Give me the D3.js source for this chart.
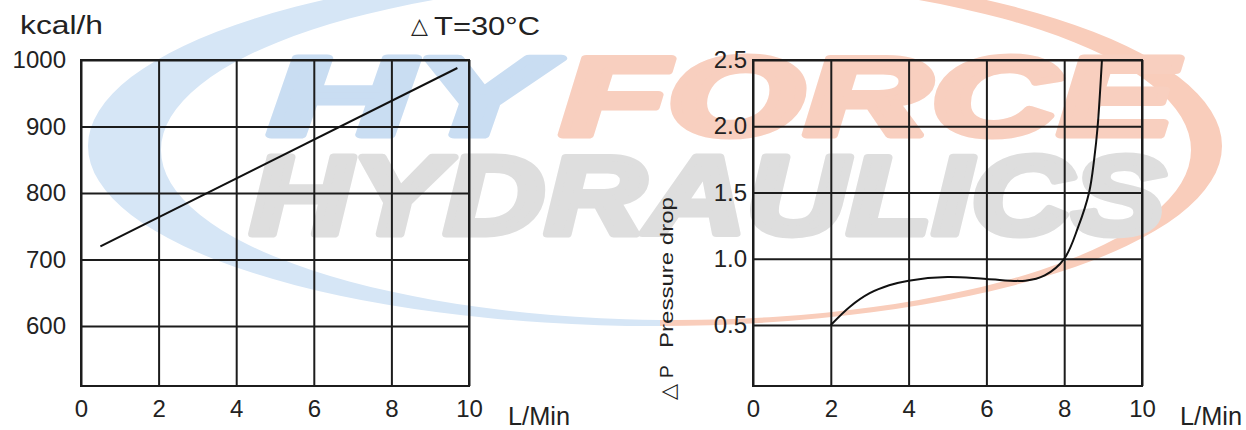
<!DOCTYPE html>
<html>
<head>
<meta charset="utf-8">
<script src="https://cdn.jsdelivr.net/npm/d3@7"></script>
<style>
  body { margin: 0; background: white; }
  text { font-family: "Liberation Sans", Arial, sans-serif; fill: #222; }
</style>
</head>
<body>
<svg width="1246" height="430"></svg>
<script>
// heat dissipation (left chart)
var heatFlow = [0.5, 9.7];
var heatKcal = [720, 988];
var heatTicks = [600, 700, 800, 900, 1000];

// pressure drop (right chart)
var dropFlow = [2, 2.5, 3, 3.5, 4, 5, 6, 7, 7.5, 8, 8.36, 8.64, 8.77, 8.86, 8.97];
var dropBar = [0.5, 0.64, 0.74, 0.8, 0.835, 0.862, 0.848, 0.835, 0.875, 1.0, 1.24, 1.5, 1.75, 2.0, 2.5];
var dropTicks = [0.5, 1.0, 1.5, 2.0, 2.5];

var flowTicks = [0, 2, 4, 6, 8, 10];

var svg = d3.select("svg");
svg.append("rect").attr("width", 1246).attr("height", 430).attr("fill", "white");

// ---- watermark ----
var wm = svg.append("g");
function ell(cx, cy, rx, ry) {
    return "M" + (cx - rx) + "," + cy +
        "a" + rx + "," + ry + " 0 1,0 " + (2 * rx) + ",0" +
        "a" + rx + "," + ry + " 0 1,0 " + (-2 * rx) + ",0Z";
}
var ring = ell(655, 146, 567, 180) + ell(676, 150, 515, 170);
var defs = svg.append("defs");
defs.append("clipPath").attr("id", "leftHalf")
    .append("rect").attr("x", 0).attr("y", 0).attr("width", 660).attr("height", 430);
defs.append("clipPath").attr("id", "rightHalf")
    .append("rect").attr("x", 660).attr("y", 0).attr("width", 600).attr("height", 430);
wm.append("path").attr("d", ring).attr("fill-rule", "evenodd")
    .attr("fill", "#d6e6f6").attr("clip-path", "url(#leftHalf)");
wm.append("path").attr("d", ring).attr("fill-rule", "evenodd")
    .attr("fill", "#f9cdbb").attr("clip-path", "url(#rightHalf)");

function bigWord(x, y, len, col, txt) {
    wm.append("text").attr("x", x).attr("y", y)
        .attr("textLength", len).attr("lengthAdjust", "spacingAndGlyphs")
        .style("font-size", "112px").style("font-weight", "bold").style("font-style", "italic")
        .style("fill", col).style("stroke", col).style("stroke-width", 7)
        .style("stroke-linejoin", "round")
        .text(txt);
}
bigWord(268, 135, 278, "#c9ddf2", "HY");
bigWord(560, 135, 615, "#f8cfbf", "FORCE");
bigWord(250, 234, 915, "#dedede", "HYDRAULICS");

// ---- chart helper ----
function drawChart(left, right, yDomain, yTicks, yFmt, yPad, xs, ys) {
    var top = 60, bottom = 386;
    var x = d3.scaleLinear().domain([0, 10]).range([left, right]);
    var y = d3.scaleLinear().domain(yDomain).range([bottom, top]);
    var g = svg.append("g");

    g.append("g")
        .attr("transform", "translate(0," + bottom + ")")
        .call(d3.axisBottom(x).tickValues(flowTicks).tickSize(-(bottom - top)).tickPadding(14))
        .call(function (a) { a.select(".domain").remove(); });

    g.append("g")
        .attr("transform", "translate(" + left + ",0)")
        .call(d3.axisLeft(y).tickValues(yTicks).tickFormat(yFmt).tickSize(-(right - left)).tickPadding(yPad))
        .call(function (a) { a.select(".domain").remove(); });

    g.selectAll(".tick line").attr("stroke", "#1c1c1c").attr("stroke-width", 2);
    g.selectAll(".tick text").style("font-size", "24px").attr("fill", "#222");

    g.append("rect")
        .attr("x", left).attr("y", top)
        .attr("width", right - left).attr("height", bottom - top)
        .attr("fill", "none").attr("stroke", "#1c1c1c").attr("stroke-width", 2);

    var pts = xs.map(function (d, i) { return [d, ys[i]]; });
    g.append("path")
        .datum(pts)
        .attr("fill", "none")
        .attr("stroke", "#111")
        .attr("stroke-width", 2)
        .attr("d", d3.line()
            .x(function (d) { return x(d[0]); })
            .y(function (d) { return y(d[1]); })
            .curve(d3.curveCatmullRom.alpha(0.5)));
}

drawChart(81, 469, [510, 1000], heatTicks, d3.format("d"), 15, heatFlow, heatKcal);
drawChart(753, 1142, [0.04, 2.5], dropTicks, d3.format(".1f"), 6, dropFlow, dropBar);

// ---- labels ----
svg.append("text").attr("x", 20).attr("y", 34)
    .attr("textLength", 83).attr("lengthAdjust", "spacingAndGlyphs")
    .style("font-size", "25px").text("kcal/h");

svg.append("text").attr("x", 411).attr("y", 33)
    .style("font-family", "DejaVu Sans").style("font-size", "22px").text("\u25B3");
svg.append("text").attr("x", 434).attr("y", 35)
    .attr("textLength", 106).attr("lengthAdjust", "spacingAndGlyphs")
    .style("font-size", "25px").text("T=30\u00B0C");

svg.append("text").attr("x", 508).attr("y", 425)
    .attr("textLength", 62).attr("lengthAdjust", "spacingAndGlyphs")
    .style("font-size", "25px").text("L/Min");
svg.append("text").attr("x", 1180).attr("y", 425)
    .attr("textLength", 62).attr("lengthAdjust", "spacingAndGlyphs")
    .style("font-size", "25px").text("L/Min");

svg.append("text").attr("transform", "translate(675,400) rotate(-90)")
    .style("font-family", "DejaVu Sans").style("font-size", "21px").text("\u25B3");
svg.append("text").attr("transform", "translate(673,378) rotate(-90)")
    .style("font-size", "19px").text("P");
svg.append("text").attr("transform", "translate(673,348) rotate(-90)")
    .attr("textLength", 151).attr("lengthAdjust", "spacingAndGlyphs")
    .style("font-size", "19px").text("Pressure drop");
</script>
</body>
</html>
